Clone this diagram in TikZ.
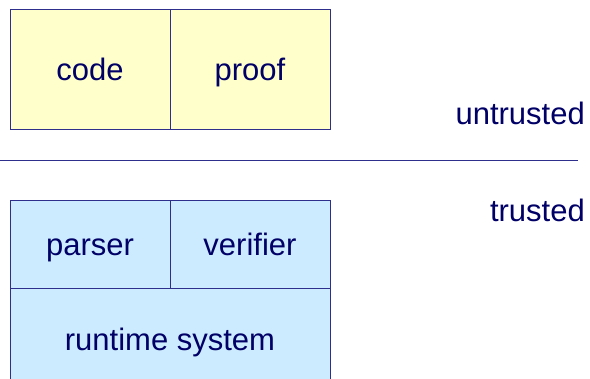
\documentclass[tikz,border=0pt]{standalone}
\usepackage{fontspec}
\setmainfont{Liberation Sans}
\usepackage{xcolor}
\usetikzlibrary{positioning}

\definecolor{navy}{HTML}{2E2E8C}
\definecolor{ink}{HTML}{000066}
\definecolor{paleyellow}{HTML}{FFFFCC}
\definecolor{paleblue}{HTML}{CCEBFF}

\begin{document}
\begin{tikzpicture}[x=1pt,y=-1pt,
  cell/.style={rectangle,draw=navy,line width=0.9pt,inner sep=0pt,minimum width=160pt,
    text height=24pt,text depth=0pt,text=ink,font=\fontsize{31}{36}\selectfont},
  label/.style={text=ink,font=\fontsize{31}{36}\selectfont,anchor=base east,inner sep=0pt}]
\useasboundingbox (0,0) rectangle (590,379);
% untrusted side
\node[cell,fill=paleyellow,minimum height=120pt] (code) at (90,69) {code};
\node[cell,fill=paleyellow,minimum height=120pt] (proof) at (250,69) {proof};
% trusted side
\node[cell,fill=paleblue,minimum height=88pt] (parser) at (90,244) {parser};
\node[cell,fill=paleblue,minimum height=88pt] (verifier) at (250,244) {verifier};
\node[cell,fill=paleblue,minimum height=102pt,minimum width=320pt] (runtime) at (170,339) {runtime system};
% boundary
\coordinate (left) at (0,160);
\coordinate (right) at (578,160);
\draw[navy,line width=0.9pt] (left) -- (right);
\node[label] (untrusted) at (585,125) {untrusted};
\node[label] (trusted) at (585,222) {trusted};
\end{tikzpicture}
\end{document}
